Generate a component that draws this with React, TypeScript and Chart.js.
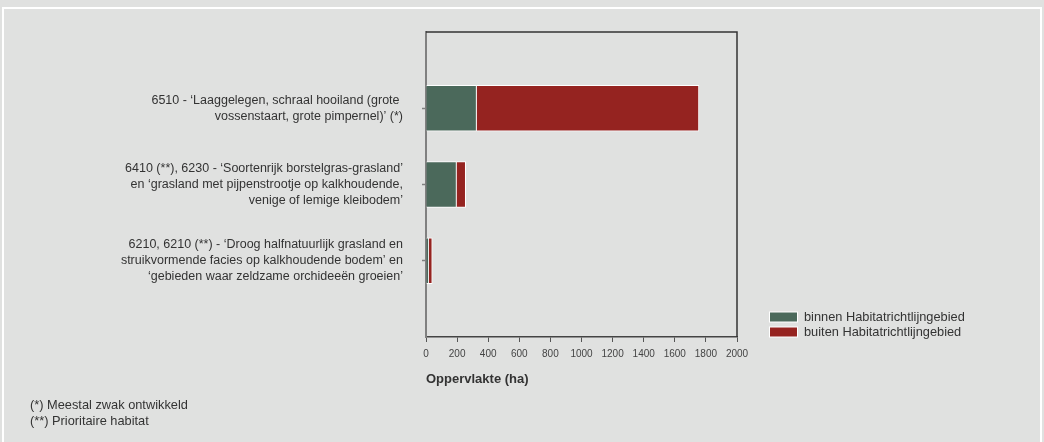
import React, { useEffect, useRef } from "react";
import { Chart, registerables } from "chart.js";

Chart.register(...registerables);

const categories: (string | string[])[] = [
  "",
  ["6510 - \u2018Laaggelegen, schraal hooiland (grote ", "vossenstaart, grote pimpernel)\u2019 (*)"],
  ["6410 (**), 6230 - \u2018Soortenrijk borstelgras-grasland\u2019", "en \u2018grasland met pijpenstrootje op kalkhoudende,", "venige of lemige kleibodem\u2019"],
  ["6210, 6210 (**) - \u2018Droog halfnatuurlijk grasland en", "struikvormende facies op kalkhoudende bodem\u2019 en", "\u2018gebieden waar zeldzame orchideeën groeien\u2019"],
  "",
];
const binnen: (number | null)[] = [null, 325, 196, 18, null];
const buiten: (number | null)[] = [null, 1430, 59, 22, null];
const seriesNames = ["binnen Habitatrichtlijngebied", "buiten Habitatrichtlijngebied"];
const xTicks = [0, 200, 400, 600, 800, 1000, 1200, 1400, 1600, 1800, 2000];
const axisTitle = "Oppervlakte (ha)";
const footnotes = ["(*) Meestal zwak ontwikkeld", "(**) Prioritaire habitat"];

const GREEN = "#4b695b";
const RED = "#952320";
const BG = "#e0e1e0";
const FONT = "'Liberation Sans', Arial, sans-serif";

const framePlugin = {
  id: "frame",
  beforeDraw(chart: any) {
    const { ctx, width, height } = chart;
    ctx.save();
    ctx.fillStyle = BG;
    ctx.fillRect(0, 0, width, height);
    ctx.strokeStyle = "#ffffff";
    ctx.lineWidth = 2;
    ctx.strokeRect(3, 8, width - 6, height + 20);
    ctx.restore();
  },
  afterDraw(chart: any) {
    const { ctx, chartArea } = chart;
    const { left, right, top, bottom } = chartArea;
    ctx.save();
    ctx.strokeStyle = "#333333";
    ctx.lineWidth = 1.5;
    ctx.beginPath();
    ctx.moveTo(left, top);
    ctx.lineTo(right, top);
    ctx.lineTo(right, bottom);
    ctx.stroke();

    // legend
    ctx.font = `12.8px ${FONT}`;
    ctx.textBaseline = "middle";
    chart.data.datasets.forEach((ds: any, i: number) => {
      const y = 317 + i * 15;
      ctx.fillStyle = "#ffffff";
      ctx.fillRect(769, y - 5.5, 29, 11);
      ctx.fillStyle = ds.backgroundColor;
      ctx.fillRect(770, y - 4.5, 27, 9);
      ctx.fillStyle = "#333333";
      ctx.textAlign = "left";
      ctx.fillText(ds.label, 804, y);
    });

    // footnotes
    footnotes.forEach((t, i) => {
      ctx.fillStyle = "#333333";
      ctx.fillText(t, 30, 405 + i * 16);
    });
    ctx.restore();
  },
};

export default function App() {
  const ref = useRef<HTMLCanvasElement>(null);
  useEffect(() => {
    document.body.style.margin = "0";
    const chart = new Chart(ref.current!, {
      type: "bar",
      data: {
        labels: categories as any,
        datasets: [
          { label: seriesNames[0], data: binnen, backgroundColor: GREEN, borderColor: "#ffffff", borderWidth: 1, barThickness: 46 },
          { label: seriesNames[1], data: buiten, backgroundColor: RED, borderColor: "#ffffff", borderWidth: 1, barThickness: 46 },
        ],
      },
      options: {
        indexAxis: "y",
        animation: false,
        responsive: true,
        maintainAspectRatio: false,
        layout: { padding: { left: 0, right: 307, top: 32, bottom: 55 } },
        plugins: { legend: { display: false }, tooltip: { enabled: false } },
        scales: {
          x: {
            stacked: true,
            min: 0,
            max: 2000,
            afterBuildTicks: (s: any) => { s.ticks = xTicks.map((v) => ({ value: v })); },
            afterFit: (s: any) => { s.height = 50; },
            ticks: { color: "#444444", font: { family: FONT, size: 10 }, padding: 6, maxRotation: 0, autoSkip: false, callback: (v: any) => String(v) },
            grid: { drawOnChartArea: false, drawTicks: true, tickLength: 5, tickColor: "#555555", tickWidth: 1 },
            border: { display: true, color: "#444444", width: 1.5 },
            title: { display: true, text: axisTitle, align: "start", color: "#333333", font: { family: FONT, size: 13, weight: "bold" }, padding: { top: 0, bottom: 0 } },
          },
          y: {
            stacked: true,
            offset: false,
            afterFit: (s: any) => { s.width = 426; },
            ticks: { color: "#333333", font: { family: FONT, size: 12.5, lineHeight: 1.3 }, padding: 19, autoSkip: false },
            grid: {
              offset: false,
              drawOnChartArea: false,
              drawTicks: true,
              tickLength: 4,
              tickWidth: 1.5,
              tickColor: (c: any) => (c.index === 0 || c.index === categories.length - 1 ? "rgba(0,0,0,0)" : "#808080"),
            },
            border: { display: true, color: "#808080", width: 2 },
          },
        },
      },
      plugins: [framePlugin],
    } as any);
    return () => chart.destroy();
  }, []);
  return (
    <div style={{ width: 1044, height: 442, position: "relative" }}>
      <canvas ref={ref} />
    </div>
  );
}
